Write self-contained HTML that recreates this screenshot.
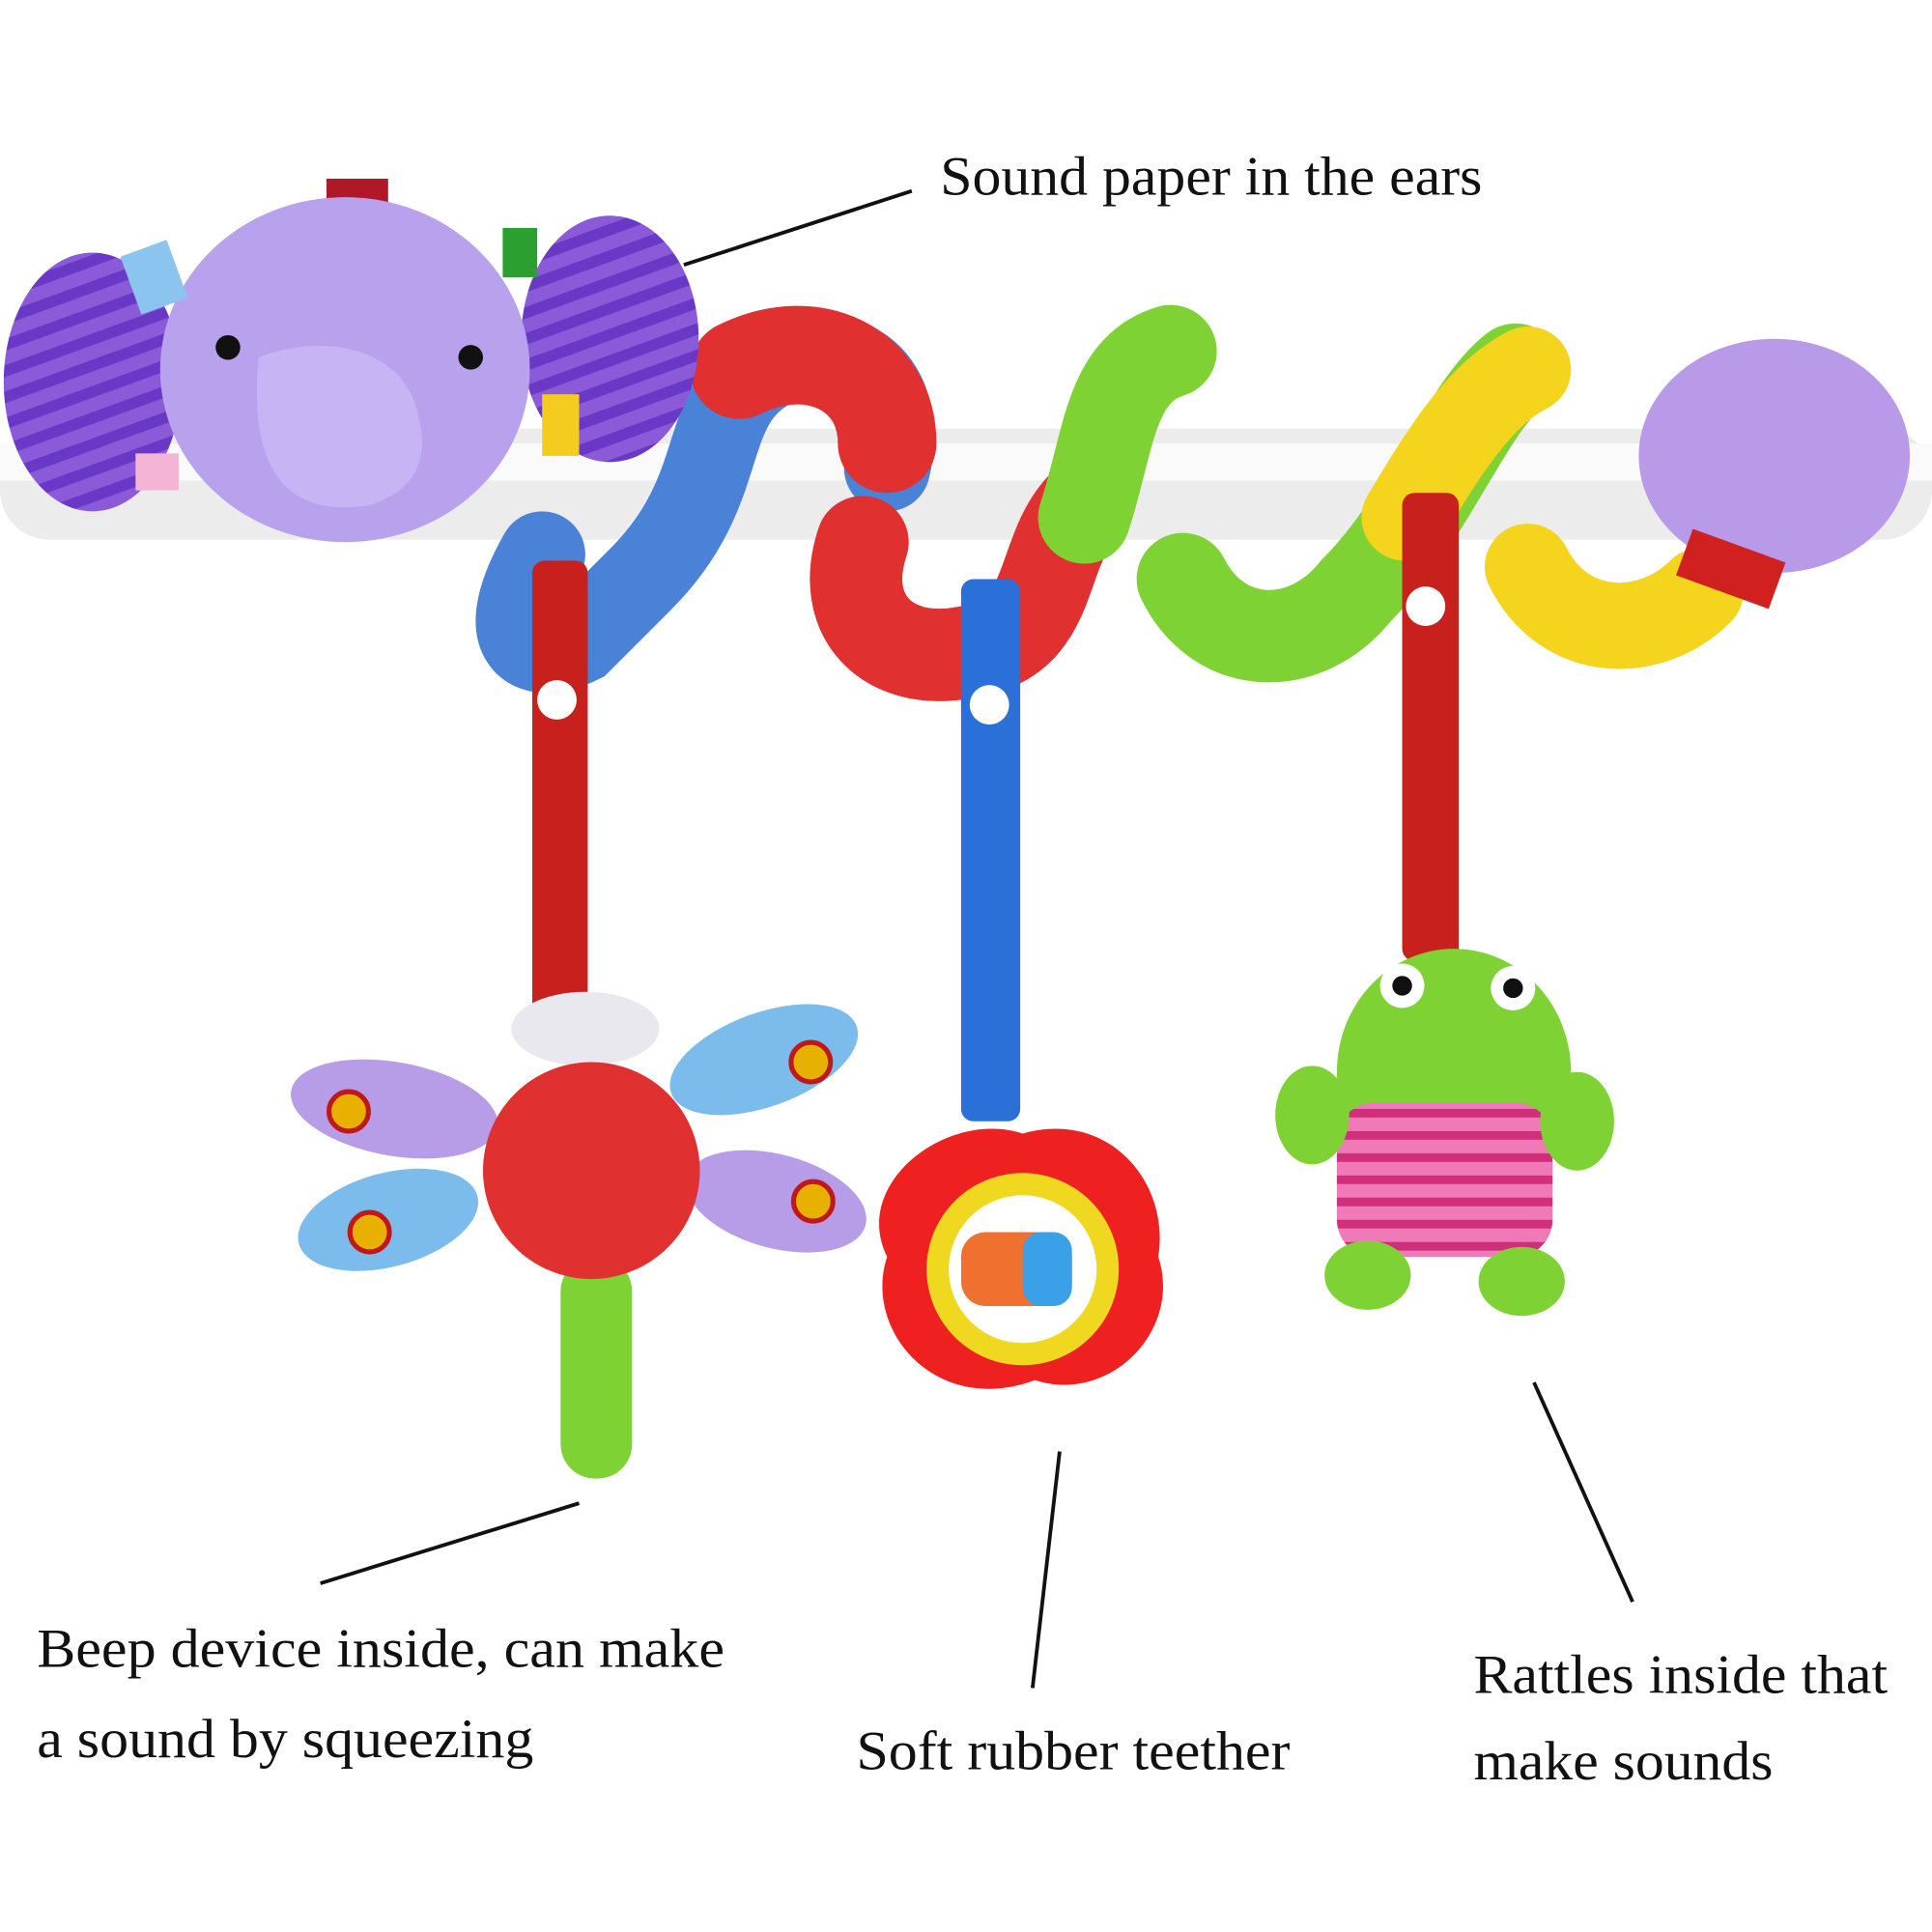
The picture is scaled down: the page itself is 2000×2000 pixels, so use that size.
<!DOCTYPE html>
<html><head><style>html,body{margin:0;padding:0;background:#fff}svg{display:block}</style></head>
<body>
<svg width="2000" height="2000" viewBox="0 0 1568 1568" xmlns="http://www.w3.org/2000/svg">
<rect width="1568" height="1568" fill="#fff"/>
<defs>
<pattern id="str" width="20" height="20" patternUnits="userSpaceOnUse" patternTransform="rotate(-20)">
<rect width="20" height="20" fill="#8a5ad8"/><rect width="20" height="9" fill="#6a38c6"/></pattern>
<pattern id="pk" width="20" height="18" patternUnits="userSpaceOnUse"><rect width="20" height="18" fill="#f07ab8"/><rect width="20" height="7" fill="#d0307a"/></pattern>
</defs>
<!-- bar -->
<rect x="0" y="348" width="1568" height="90" rx="40" fill="#ececec"/>
<rect x="0" y="360" width="1568" height="30" fill="#fafafa"/>
<!-- spiral tubes -->
<path d="M440 450 C400 520 430 540 470 520 L520 470 C600 390 560 320 640 290 C720 280 730 340 720 380" stroke="#4a82d8" stroke-width="70" fill="none" stroke-linecap="round"/>
<path d="M600 300 C660 270 720 300 720 360" stroke="#e03030" stroke-width="80" fill="none" stroke-linecap="round"/>
<path d="M700 440 C680 500 720 540 780 530 C860 520 840 450 880 410" stroke="#e03030" stroke-width="75" fill="none" stroke-linecap="round"/>
<path d="M880 420 C900 360 900 300 950 285" stroke="#7fd234" stroke-width="75" fill="none" stroke-linecap="round"/>
<path d="M960 470 C990 530 1060 530 1100 480 C1160 420 1190 330 1230 300" stroke="#7fd234" stroke-width="75" fill="none" stroke-linecap="round"/>
<path d="M1140 420 C1170 370 1200 320 1240 300" stroke="#f4d41c" stroke-width="70" fill="none" stroke-linecap="round"/>
<path d="M1240 460 C1270 520 1340 520 1380 480" stroke="#f4d41c" stroke-width="70" fill="none" stroke-linecap="round"/>
<ellipse cx="1440" cy="370" rx="110" ry="95" fill="#b89ae8"/>
<rect x="1365" y="440" width="80" height="40" fill="#d02020" transform="rotate(20 1400 460)"/>
<!-- elephant -->
<ellipse cx="75" cy="310" rx="72" ry="105" fill="url(#str)"/>
<ellipse cx="495" cy="275" rx="72" ry="100" fill="url(#str)"/>
<rect x="265" y="145" width="50" height="40" fill="#b01828"/>
<ellipse cx="280" cy="300" rx="150" ry="140" fill="#b8a2ee"/>
<path d="M210 290 C260 270 330 280 340 340 C350 380 330 400 300 410 C240 420 200 390 210 290Z" fill="#c6b4f4"/>
<circle cx="185" cy="282" r="10" fill="#111"/><circle cx="382" cy="290" r="10" fill="#111"/>
<rect x="105" y="200" width="40" height="50" fill="#8cc4f0" transform="rotate(-20 125 225)"/>
<rect x="408" y="185" width="28" height="40" fill="#2aa030"/>
<rect x="440" y="320" width="30" height="50" fill="#f4cc20"/>
<rect x="110" y="368" width="35" height="30" fill="#f4b4d4"/>
<!-- ribbons -->
<rect x="432" y="455" width="45" height="380" fill="#c8201c" rx="10"/>
<circle cx="452" cy="568" r="16" fill="#fff"/>
<rect x="780" y="470" width="48" height="440" fill="#2a70d8" rx="10"/>
<circle cx="803" cy="572" r="16" fill="#fff"/>
<rect x="1138" y="400" width="46" height="380" fill="#c8201c" rx="10"/>
<circle cx="1157" cy="492" r="16" fill="#fff"/>
<!-- dragonfly -->
<ellipse cx="320" cy="900" rx="85" ry="38" fill="#b79ce8" transform="rotate(10 320 900)"/>
<ellipse cx="315" cy="990" rx="75" ry="38" fill="#7cbcec" transform="rotate(-15 315 990)"/>
<ellipse cx="620" cy="860" rx="80" ry="38" fill="#7cbcec" transform="rotate(-20 620 860)"/>
<ellipse cx="630" cy="975" rx="75" ry="38" fill="#b79ce8" transform="rotate(15 630 975)"/>
<circle cx="283" cy="902" r="16" fill="#e8b000" stroke="#c01818" stroke-width="4"/>
<circle cx="300" cy="1000" r="16" fill="#e8b000" stroke="#c01818" stroke-width="4"/>
<circle cx="658" cy="862" r="16" fill="#e8b000" stroke="#c01818" stroke-width="4"/>
<circle cx="660" cy="975" r="16" fill="#e8b000" stroke="#c01818" stroke-width="4"/>
<rect x="455" y="1020" width="58" height="180" rx="28" fill="#7fd234"/>
<ellipse cx="475" cy="835" rx="60" ry="30" fill="#e8e8ee"/>
<circle cx="480" cy="950" r="88" fill="#e03030"/>
<!-- teether -->
<path d="M830 920 C900 900 950 960 940 1020 C960 1080 900 1140 840 1120 C760 1150 700 1080 720 1020 C690 960 770 900 830 920Z" fill="#ee2020"/>
<circle cx="830" cy="1030" r="78" fill="#f0d820"/>
<circle cx="830" cy="1030" r="60" fill="#fff"/>
<rect x="780" y="1000" width="90" height="60" rx="20" fill="#f07030"/>
<rect x="830" y="1000" width="40" height="60" rx="15" fill="#3aa0e8"/>
<!-- frog -->
<ellipse cx="1180" cy="870" rx="95" ry="100" fill="#7fd234"/>
<circle cx="1138" cy="800" r="18" fill="#fff"/><circle cx="1228" cy="802" r="18" fill="#fff"/>
<circle cx="1138" cy="800" r="8" fill="#111"/><circle cx="1228" cy="802" r="8" fill="#111"/>
<rect x="1085" y="895" width="175" height="125" rx="30" fill="url(#pk)"/>
<ellipse cx="1065" cy="905" rx="30" ry="40" fill="#7fd234"/>
<ellipse cx="1280" cy="910" rx="30" ry="40" fill="#7fd234"/>
<ellipse cx="1110" cy="1035" rx="35" ry="28" fill="#7fd234"/>
<ellipse cx="1235" cy="1040" rx="35" ry="28" fill="#7fd234"/>
<!-- leader lines -->
<g stroke="#111" stroke-width="3">
<line x1="555" y1="215" x2="740" y2="155"/>
<line x1="260" y1="1285" x2="470" y2="1220"/>
<line x1="860" y1="1178" x2="838" y2="1370"/>
<line x1="1245" y1="1122" x2="1325" y2="1300"/>
</g>
<g font-family="'Liberation Serif', serif" font-size="45" fill="#111" lengthAdjust="spacingAndGlyphs">
<text x="763" y="158" textLength="440" lengthAdjust="spacingAndGlyphs">Sound paper in the ears</text>
<text x="30" y="1353" textLength="558" lengthAdjust="spacingAndGlyphs">Beep device inside, can make</text>
<text x="30" y="1426" textLength="403" lengthAdjust="spacingAndGlyphs">a sound by squeezing</text>
<text x="695" y="1436" textLength="352" lengthAdjust="spacingAndGlyphs">Soft rubber teether</text>
<text x="1196" y="1374" textLength="336" lengthAdjust="spacingAndGlyphs">Rattles inside that</text>
<text x="1196" y="1444" textLength="243" lengthAdjust="spacingAndGlyphs">make sounds</text>
</g>
</svg>
</body></html>
